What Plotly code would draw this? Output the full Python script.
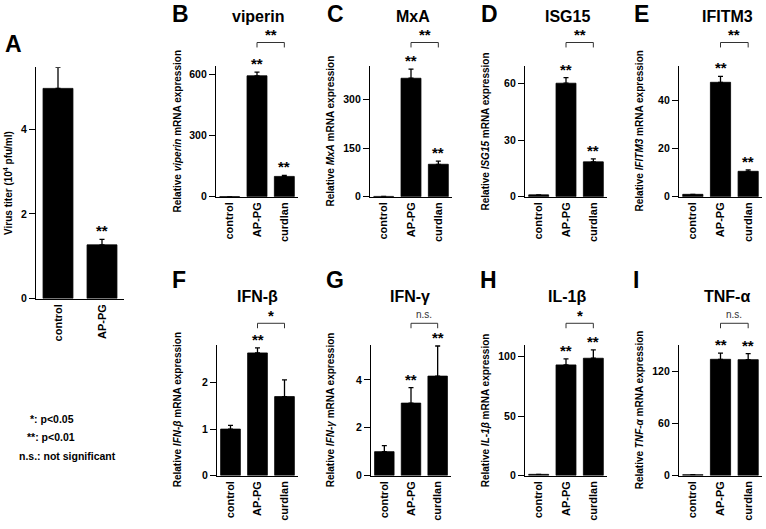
import plotly.graph_objects as go

W, H = 766, 529
FONT = "Arial, Liberation Sans, sans-serif"

# ---------------- data ----------------
cats_a = ["control", "AP-PG"]
titer = [4.97, 1.27]
titer_err = [0.50, 0.13]

cats = ["control", "AP-PG", "curdlan"]
viperin = [1, 595, 100]
viperin_err = [0, 18, 5]
mxa = [1, 365, 100]
mxa_err = [0, 28, 10]
isg15 = [1, 60.2, 18.5]
isg15_err = [0, 3.0, 1.6]
ifitm3 = [1, 47.7, 10.6]
ifitm3_err = [0, 2.5, 0.6]
ifnb = [1.0, 2.64, 1.70]
ifnb_err = [0.08, 0.11, 0.36]
ifng = [1.0, 3.03, 4.16]
ifng_err = [0.25, 0.65, 1.26]
il1b = [1, 93, 98.6]
il1b_err = [0, 5, 7]
tnfa = [1, 133.6, 133.2]
tnfa_err = [0, 7, 7]

# per-panel significance marks vs control, and AP-PG vs curdlan bracket label
panels = [
    # letter, title, ytitle, cats, values, errs, ymax, tickvals, stars, bracket
    ("A", "", "Virus titer (10<sup>4</sup> pfu/ml)", cats_a, titer, titer_err, 5.47, [0, 2, 4], ["", "**"], None),
    ("B", "viperin", "Relative <i>viperin</i> mRNA expression", cats, viperin, viperin_err, 642, [0, 300, 600], ["", "**", "**"], "**"),
    ("C", "MxA", "Relative <i>MxA</i> mRNA expression", cats, mxa, mxa_err, 402, [0, 150, 300], ["", "**", "**"], "**"),
    ("D", "ISG15", "Relative <i>ISG15</i> mRNA expression", cats, isg15, isg15_err, 69.2, [0, 30, 60], ["", "**", "**"], "**"),
    ("E", "IFITM3", "Relative <i>IFITM3</i> mRNA expression", cats, ifitm3, ifitm3_err, 54.4, [0, 20, 40], ["", "**", "**"], "**"),
    ("F", "IFN-β", "Relative <i>IFN-β</i> mRNA expression", cats, ifnb, ifnb_err, 2.81, [0, 1, 2], ["", "**", ""], "*"),
    ("G", "IFN-γ", "Relative <i>IFN-γ</i> mRNA expression", cats, ifng, ifng_err, 5.46, [0, 2, 4], ["", "**", "**"], "n.s."),
    ("H", "IL-1β", "Relative <i>IL-1β</i> mRNA expression", cats, il1b, il1b_err, 109.7, [0, 50, 100], ["", "**", "**"], "*"),
    ("I", "TNF-α", "Relative <i>TNF-α</i> mRNA expression", cats, tnfa, tnfa_err, 150, [0, 60, 120], ["", "**", "**"], "n.s."),
]

# ---------------- layout geometry (pixels) ----------------
# x0, x1, ytop, ybase, ytitle_x, letter_x, letter_y, title_x, title_y, bracket_y
geom = [
    (36, 124, 68, 302, 8, 13, 45, None, None, None),
    (216, 298, 67, 199, 177, 180, 14, 258, 17, 43),
    (370, 452, 67, 199, 330, 335, 14, 413, 17, 43),
    (525, 607, 67, 199, 485, 489, 14, 567, 17, 43),
    (679, 762, 67, 199, 639, 641, 14, 727, 17, 43),
    (217, 298, 349, 481, 177, 179, 283, 257, 300, 327),
    (371, 451, 349, 481, 330, 335, 283, 410, 300, 327),
    (525, 607, 349, 481, 485, 488, 283, 567, 300, 327),
    (679, 762, 349, 481, 639, 636, 283, 727, 300, 327),
]

def px(x):
    return x / W

def py(y):
    return 1 - y / H

fig = go.Figure()
annotations = []
shapes = []
layout_axes = {}

for i, (p, g) in enumerate(zip(panels, geom)):
    letter, title, ytitle, cs, vals, errs, ymax, tv, stars, bracket = p
    x0, x1, ytop, ybase, ytx, lx, ly, tx, ty, by = g
    n = i + 1
    xa = "x" if n == 1 else f"x{n}"
    ya = "y" if n == 1 else f"y{n}"
    xkey = "xaxis" if n == 1 else f"xaxis{n}"
    ykey = "yaxis" if n == 1 else f"yaxis{n}"
    bw = 0.68 if n == 1 else 0.73

    fig.add_trace(go.Bar(
        x=cs, y=vals, xaxis=xa, yaxis=ya, width=bw,
        marker=dict(color="black", line=dict(color="black", width=0.8)),
        error_y=dict(type="data", array=errs, arrayminus=[0] * len(errs),
                     symmetric=False, color="black", thickness=1.3, width=2.5),
        showlegend=False, hoverinfo="x+y",
    ))

    layout_axes[xkey] = dict(
        domain=[px(x0), px(x1)], anchor=ya, type="category",
        range=[-0.5, len(cs) - 0.5], showline=True, linecolor="black",
        linewidth=1.3, ticks="", tickangle=-90, showgrid=False, zeroline=False,
        tickfont=dict(family=FONT, size=11, color="black", weight="bold"),
        fixedrange=True,
    )
    layout_axes[ykey] = dict(
        domain=[py(ybase), py(ytop)], anchor=xa, range=[0, ymax],
        showline=True, linecolor="black", linewidth=1.3, ticks="outside",
        ticklen=6, tickwidth=1.3, tickcolor="black", tickvals=tv,
        showgrid=False, zeroline=False,
        tickfont=dict(family=FONT, size=10.5, color="black", weight="bold"),
        fixedrange=True,
    )

    # y-axis title
    annotations.append(dict(
        text=ytitle, xref="paper", yref="paper", x=px(ytx), y=py((ytop + ybase) / 2),
        xanchor="center", yanchor="middle", textangle=-90, showarrow=False,
        font=dict(family=FONT, size=10, color="black", weight="bold"),
    ))
    # panel letter
    annotations.append(dict(
        text=f"<b>{letter}</b>", xref="paper", yref="paper", x=px(lx), y=py(ly),
        xanchor="center", yanchor="middle", showarrow=False,
        font=dict(family=FONT, size=23, color="black"),
    ))
    # gene title
    if title:
        annotations.append(dict(
            text=f"<b>{title}</b>", xref="paper", yref="paper", x=px(tx), y=py(ty),
            xanchor="center", yanchor="middle", showarrow=False,
            font=dict(family=FONT, size=16, color="black"),
        ))
    # stars above bars
    for c, v, e, s in zip(cs, vals, errs, stars):
        if s:
            annotations.append(dict(
                text=f"<b>{s}</b>", xref=xa, yref=ya, x=c, y=v + e,
                xanchor="center", yanchor="bottom", yshift=-2, showarrow=False,
                font=dict(family=FONT, size=15, color="black"),
            ))
    # bracket AP-PG vs curdlan
    if bracket:
        for seg in [("AP-PG", by, "AP-PG", by + 5), ("curdlan", by, "curdlan", by + 5),
                    ("AP-PG", by, "curdlan", by)]:
            shapes.append(dict(
                type="line", xref=xa, yref="paper",
                x0=seg[0], y0=py(seg[1]), x1=seg[2], y1=py(seg[3]),
                line=dict(color="#333333", width=1),
            ))
        if bracket == "n.s.":
            annotations.append(dict(
                text="n.s.", xref=xa, yref="paper", x=1.5, y=py(by - 1),
                xanchor="center", yanchor="bottom", showarrow=False,
                font=dict(family=FONT, size=10, color="#333333"),
            ))
        else:
            annotations.append(dict(
                text=f"<b>{bracket}</b>", xref=xa, yref="paper", x=1.5, y=py(by + 3),
                xanchor="center", yanchor="bottom", showarrow=False,
                font=dict(family=FONT, size=15, color="black"),
            ))

# significance legend
legend_lines = [("*: p<0.05", 28, 424), ("**: p<0.01", 25, 442), ("n.s.: not significant", 17, 461)]
for t, lx, ly in legend_lines:
    annotations.append(dict(
        text=f"<b>{t}</b>", xref="paper", yref="paper", x=px(lx), y=py(ly),
        xanchor="left", yanchor="middle", showarrow=False,
        font=dict(family=FONT, size=10.5, color="black"),
    ))

fig.update_layout(
    width=W, height=H, margin=dict(l=0, r=0, t=0, b=0),
    paper_bgcolor="white", plot_bgcolor="white",
    bargap=0.27, annotations=annotations, shapes=shapes,
    **layout_axes,
)

fig.write_html(
    "out.html",
    config={"displayModeBar": False},
    post_script="document.body.style.margin='0';document.body.style.overflow='hidden';",
)
